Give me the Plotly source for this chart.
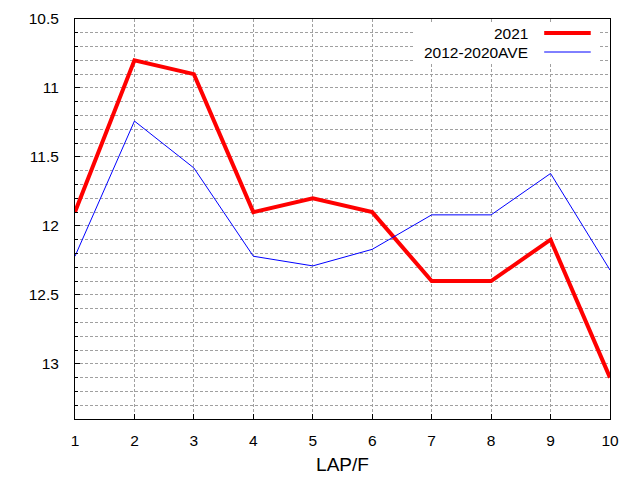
import plotly.graph_objects as go

laps = [1, 2, 3, 4, 5, 6, 7, 8, 9, 10]
y2021 = [11.9, 10.8, 10.9, 11.9, 11.8, 11.9, 12.4, 12.4, 12.1, 13.1]
y_ave = [12.22, 11.24, 11.58, 12.22, 12.29, 12.17, 11.92, 11.92, 11.62, 12.32]
series_names = ['2021', '2012-2020AVE']
ytick_vals = [10.5, 11, 11.5, 12, 12.5, 13]
ytick_text = ['10.5', '11', '11.5', '12', '12.5', '13']

font = dict(family='Liberation Sans, Arial', size=15.5, color='black')
grid = dict(showgrid=True, gridcolor='#a0a0a0', gridwidth=1, griddash='3px,2px')

fig = go.Figure()
fig.add_trace(go.Scatter(x=laps, y=y2021, mode='lines', name=series_names[0],
                         line=dict(color='#ff0000', width=4), showlegend=False))
fig.add_trace(go.Scatter(x=laps, y=y_ave, mode='lines', name=series_names[1],
                         line=dict(color='#0000ff', width=1), showlegend=False))

fig.update_xaxes(range=[1, 10], dtick=1, tick0=1, **grid, automargin=False,
                 showline=True, mirror=True, linecolor='black', linewidth=1,
                 ticks='inside', ticklen=5, tickcolor='black', ticklabelstandoff=7,
                 title=dict(text='LAP/F', standoff=10), zeroline=False)
fig.update_yaxes(range=[13.4, 10.5], tickvals=ytick_vals, ticktext=ytick_text, **grid,
                 minor=dict(dtick=0.1, tick0=10.5, showgrid=True, gridcolor='#a0a0a0',
                            griddash='3px,2px', ticks='inside', ticklen=3, tickcolor='black'),
                 showline=True, mirror=True, linecolor='black', linewidth=1, automargin=False,
                 ticks='inside', ticklen=5, tickcolor='black', ticklabelstandoff=12,
                 zeroline=False)

# gnuplot-style key: text on the left, line sample on the right
fig.add_shape(type='rect', xref='paper', yref='paper', x0=0.632, x1=0.978, y0=0.8925, y1=0.9875,
              fillcolor='white', line=dict(width=0), layer='above')
fig.add_shape(type='line', xref='paper', yref='paper', x0=0.877, x1=0.964, y0=0.965, y1=0.965,
              line=dict(color='#ff0000', width=4), layer='above')
fig.add_shape(type='line', xref='paper', yref='paper', x0=0.877, x1=0.964, y0=0.9175, y1=0.9175,
              line=dict(color='#0000ff', width=1), layer='above')
fig.add_annotation(xref='paper', yref='paper', x=0.8505, y=0.965, text=series_names[0],
                   showarrow=False, xanchor='right', yanchor='middle', font=font)
fig.add_annotation(xref='paper', yref='paper', x=0.8505, y=0.9175, text=series_names[1],
                   showarrow=False, xanchor='right', yanchor='middle', font=font)

# page body adds an 8px margin, so the figure is shrunk to fit the window
fig.update_layout(width=632, height=472, font=font,
                  plot_bgcolor='white', paper_bgcolor='white',
                  margin=dict(l=67, r=30, t=11, b=61))

fig.write_html("out.html")
